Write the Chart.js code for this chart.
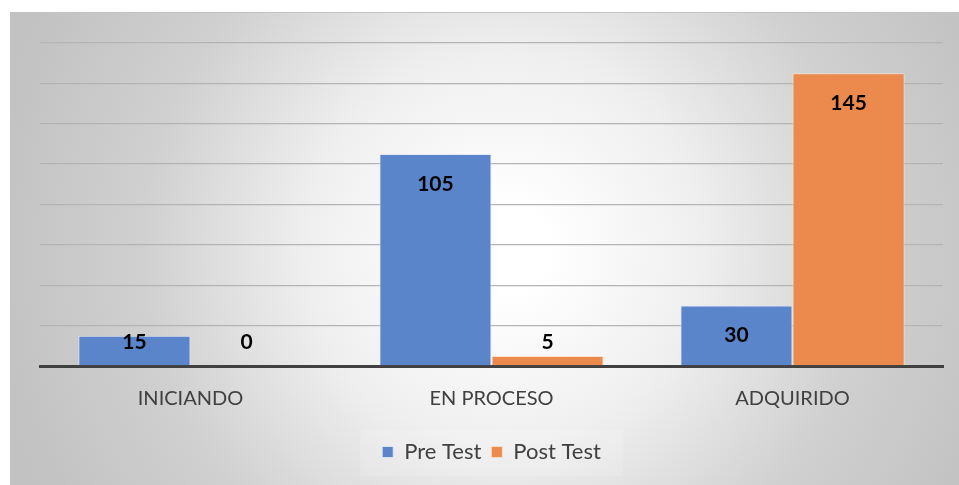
<!DOCTYPE html>
<html lang="es">
<head>
    <meta charset="UTF-8">
    <title>Pre Test / Post Test</title>
    <style>
        * { margin: 0; padding: 0; box-sizing: border-box; }
        body { background: #ffffff; width: 959px; height: 485px; overflow: hidden; position: relative; }
        .chart-box {
            position: absolute;
            left: 10px;
            top: 12px;
            width: 949px;
            height: 473px;
            border-left: 1px solid #c2c2c2;
            border-top: 1px solid #c2c2c2;
            background: radial-gradient(circle at 52% 50%, #ffffff 8%, #efefef 36%, #d0d0d0 66%, #c2c2c2 95%);
        }
    </style>
    <script src="https://cdn.jsdelivr.net/npm/chart.js"></script>
</head>
<body>
    <div class="chart-box">
        <canvas id="chart" width="948" height="472"></canvas>
    </div>

    <script>
        const categories = ["INICIANDO", "EN PROCESO", "ADQUIRIDO"];
        const preTest = [15, 105, 30];
        const postTest = [0, 5, 145];
        const seriesNames = ["Pre Test", "Post Test"];

        const FONT = "Lato, 'Open Sans', sans-serif";

        // value labels inside the top of each bar (Excel "inside end")
        const valueLabels = {
            id: "valueLabels",
            afterDatasetsDraw(chart) {
                const ctx = chart.ctx;
                const base = chart.scales.y.getPixelForValue(0);
                ctx.save();
                ctx.font = "bold 21px " + FONT;
                ctx.fillStyle = "#000000";
                ctx.textAlign = "center";
                ctx.textBaseline = "middle";
                chart.data.datasets.forEach((ds, i) => {
                    chart.getDatasetMeta(i).data.forEach((bar, j) => {
                        const y = Math.min(bar.y + 30, base - 24);
                        ctx.fillText(String(ds.data[j]), bar.x, y);
                    });
                });
                ctx.restore();
            }
        };

        // faint box behind the legend
        const legendBox = {
            id: "legendBox",
            beforeDraw(chart) {
                const boxes = chart.legend && chart.legend.legendHitBoxes;
                if (!boxes || !boxes.length) return;
                const first = boxes[0], last = boxes[boxes.length - 1];
                const ctx = chart.ctx;
                ctx.save();
                ctx.fillStyle = "rgba(255,255,255,0.15)";
                ctx.fillRect(first.left - 22, first.top - 11, last.left + last.width - first.left + 44, first.height + 24);
                ctx.restore();
            }
        };

        new Chart(document.getElementById("chart"), {
            type: "bar",
            data: {
                labels: categories,
                datasets: [
                    {
                        label: seriesNames[0],
                        data: preTest,
                        backgroundColor: "#5B85CB",
                        borderColor: "rgba(225,232,245,0.9)",
                        borderWidth: 1
                    },
                    {
                        label: seriesNames[1],
                        data: postTest,
                        backgroundColor: "#EB8A4C",
                        borderColor: "rgba(250,225,205,0.9)",
                        borderWidth: 1
                    }
                ]
            },
            options: {
                responsive: false,
                animation: false,
                layout: { padding: { left: 29, right: 16, top: 30, bottom: 12 } },
                datasets: {
                    bar: { categoryPercentage: 0.745, barPercentage: 1.0 }
                },
                scales: {
                    x: {
                        grid: { display: false, drawTicks: false },
                        border: { display: true, color: "#404040", width: 3 },
                        ticks: {
                            color: "#404040",
                            padding: 21,
                            font: { family: FONT, size: 20 }
                        },
                        afterFit(scale) { scale.height = 65; }
                    },
                    y: {
                        min: 0,
                        max: 160,
                        ticks: { display: false, stepSize: 20 },
                        grid: { color: "#b4b4b4", lineWidth: 1.3, drawTicks: false },
                        border: { display: false },
                        afterFit(scale) { scale.width = 0; }
                    }
                },
                plugins: {
                    legend: {
                        position: "bottom",
                        labels: {
                            color: "#404040",
                            boxWidth: 11,
                            boxHeight: 11,
                            padding: 10,
                            font: { family: FONT, size: 22 }
                        }
                    },
                    tooltip: { enabled: false }
                }
            },
            plugins: [legendBox, valueLabels]
        });
    </script>
</body>
</html>
